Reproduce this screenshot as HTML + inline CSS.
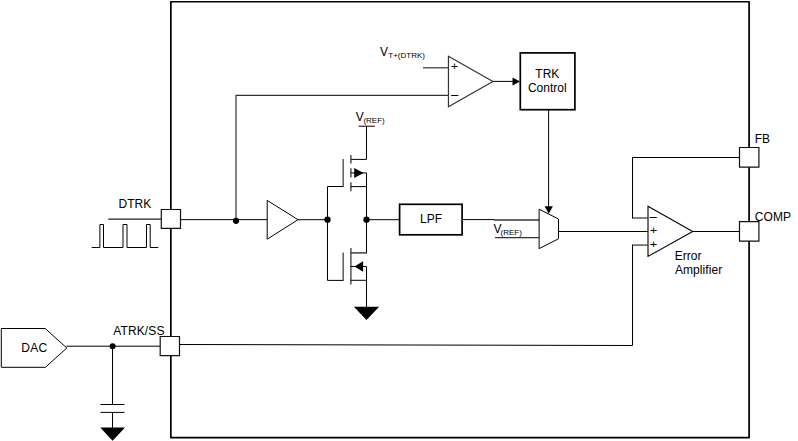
<!DOCTYPE html>
<html lang="en">
<head>
<meta charset="utf-8">
<title>Tracking block diagram</title>
<style>
  html, body { margin: 0; padding: 0; background: #fff; }
  body { width: 798px; height: 441px; overflow: hidden; }
  svg { display: block; }
  text { font-family: "Liberation Sans", Arial, Helvetica, sans-serif; fill: #000; }
  .t12 { font-size: 12px; }
  .t8 { font-size: 8px; }
  .w { fill: none; stroke: #000; stroke-width: 1; }
  .g { fill: none; stroke: #333; stroke-width: 1.2; }
  .b { fill: #fff; stroke: #000; stroke-width: 1.7; }
  .pin { fill: #fff; stroke: #111; stroke-width: 1.2; }
  .k { fill: #000; stroke: none; }
</style>
</head>
<body>
<svg width="798" height="441" viewBox="0 0 798 441">
  <rect x="0" y="0" width="798" height="441" fill="#fff"/>

  <!-- chip outline -->
  <rect x="170.85" y="1.75" width="578.25" height="435.95" fill="none" stroke="#000" stroke-width="1.7" stroke-linejoin="round"/>

  <!-- DTRK input -->
  <path class="g" d="M108.2 219 H161.3" style="stroke:#222;stroke-width:1.25"/>
  <path class="w" d="M91.7 247.5 H99.9 V224.5 H103.5 V247.5 H123 V224.5 H127 V247.5 H146.5 V224.5 H150.2 V247.5 H158.3" stroke-linejoin="miter"/>
  <path class="w" d="M180.5 219.65 H267.2"/>
  <path class="g" d="M236 220 V95.3 H448.5"/>
  <circle class="k" cx="236.05" cy="220.8" r="3.1"/>

  <!-- buffer -->
  <path class="w" d="M267.2 200.4 L298 219.7 L267.2 239.2 Z"/>
  <path class="w" d="M298 219.7 H327.5"/>
  <circle class="k" cx="327.5" cy="219.7" r="3.15"/>

  <!-- gate wiring -->
  <path class="w" d="M343 186.5 H327.5 V280.4 H343"/>
  <path class="g" d="M343.15 158.9 V187 M343.15 252.6 V280.9"/>

  <!-- upper FET -->
  <path class="w" d="M358.5 126.2 H374.8"/>
  <path class="w" d="M366.5 126.2 V159.4 H350.7"/>
  <path class="g" d="M350.9 154.9 V163.6 M350.9 168.3 V177.4 M350.9 182.2 V191.2" style="stroke:#3a3a3a;stroke-width:1.3"/>
  <path class="w" d="M350.7 172.9 H366.5 V253.4"/>
  <path class="g" d="M350.7 252.9 H367" style="stroke-width:1.4"/>
  <path class="w" d="M350.7 186.6 H366.5"/>
  <path class="k" d="M354.2 167.9 L363.6 172.95 L354.2 178 Z"/>
  <circle class="k" cx="366.5" cy="219.7" r="3.15"/>

  <!-- lower FET -->
  <path class="g" d="M350.9 248.1 V284.6" style="stroke:#3a3a3a;stroke-width:1.3"/>
  <path class="w" d="M350.7 266.5 H366.5 V307"/>
  <path class="w" d="M350.7 280.3 H366.5"/>
  <path class="k" d="M363.1 261.3 L354.4 266.45 L363.1 271.7 Z"/>
  <path class="k" d="M353.9 306.8 H379.1 L366.5 320 Z"/>

  <!-- LPF -->
  <path class="w" d="M366.5 219.7 H399.6"/>
  <rect class="b" x="399.6" y="204.3" width="62.5" height="30.5"/>
  <path class="w" d="M462.1 219.6 H494.5"/>
  <path class="g" d="M494 220 H539.1" style="stroke-width:1.4"/>

  <!-- comparator -->
  <path class="g" d="M423 67.8 H448.5"/>
  <path class="g" d="M448.45 56.3 L492.9 81.4 L448.45 106.7 Z"/>
  <path class="w" d="M492.9 81.4 H513"/>
  <path class="k" d="M512.5 77.4 L520.1 81.4 L512.5 85.4 Z"/>

  <!-- TRK control -->
  <rect class="b" x="520.3" y="52.9" width="54.6" height="56.8"/>
  <path class="w" d="M548.6 109.7 V207"/>
  <path class="k" d="M544.6 206.2 H552.9 L548.7 213.7 Z"/>

  <!-- mux -->
  <path class="w" d="M539.1 209.2 L558.5 219 V238.8 L539.1 248.6 Z"/>
  <path class="g" d="M495 237.6 H539.1"/>
  <path class="w" d="M558.4 231.5 H648.2"/>

  <!-- error amplifier -->
  <path class="w" d="M648 206.3 L692.7 231.4 L648 256.4 Z" style="stroke-width:1.1"/>
  <path class="w" d="M692.7 231.5 H739.5"/>
  <path class="g" d="M648.2 218 H632.5"/>
  <path class="w" d="M632.5 218.5 V157.5 H739.5"/>
  <path class="g" d="M648.2 245.1 H632.5"/>
  <path class="w" d="M632.5 244.6 V345.5 L179.5 344.5"/>

  <!-- pins -->
  <path class="pin" d="M161.3 209.5 H180.5 V228.3 H161.3 Z"/>
  <path class="pin" d="M160.2 336.5 H179.5 V355.7 H160.2 Z"/>
  <path class="pin" d="M739.5 147.5 H758.9 V167.1 H739.5 Z"/>
  <path class="pin" d="M739.5 221.7 H758.9 V241.1 H739.5 Z"/>

  <!-- DAC + cap -->
  <path class="w" d="M1.3 328.5 H45.2 L66.8 348 L45.4 367.3 H1.3 Z"/>
  <path class="w" d="M66.4 346.2 H160.2"/>
  <circle class="k" cx="112.6" cy="346.3" r="3"/>
  <path class="w" d="M112.5 346.3 V404.5 M100.5 404.5 H124.5 M100.5 412.4 H124.5 M112.5 412.4 V428"/>
  <path class="k" d="M100.2 427.5 H125 L112.6 440.7 Z"/>

  <!-- labels -->
  <text class="t12" x="118.6" y="208">DTRK</text>
  <text class="t12" x="113.2" y="334.7" letter-spacing="0.13">ATRK/SS</text>
  <text class="t12" x="21.3" y="352" letter-spacing="0.25">DAC</text>
  <text class="t12" x="754.7" y="143.2">FB</text>
  <text class="t12" x="754.8" y="220.9" letter-spacing="0.1">COMP</text>
  <text class="t12" x="674.7" y="259.8" letter-spacing="0.05">Error</text>
  <text class="t12" x="675" y="273.6" letter-spacing="0.06">Amplifier</text>
  <text class="t12" x="547.3" y="77.6" text-anchor="middle">TRK</text>
  <text class="t12" x="547.3" y="91.8" text-anchor="middle">Control</text>
  <text class="t12" x="431" y="223.2" text-anchor="middle">LPF</text>

  <text class="t12" x="355.7" y="121">V</text>
  <text class="t8" x="363.4" y="123.4">(REF)</text>
  <text class="t12" x="380" y="55.9">V</text>
  <text class="t8" x="388.3" y="57.8">T+(DTRK)</text>
  <text class="t12" x="493.4" y="233.2">V</text>
  <text class="t8" x="500.6" y="235.1">(REF)</text>

  <text class="sg" x="450.7" y="70" font-size="11" textLength="7.5" lengthAdjust="spacingAndGlyphs">+</text>
  <text class="sg" x="450.6" y="100" font-size="13.5" textLength="8.7" lengthAdjust="spacingAndGlyphs">−</text>
  <text class="sg" x="649.1" y="222" font-size="13.5" textLength="8.7" lengthAdjust="spacingAndGlyphs">−</text>
  <text class="sg" x="649.7" y="234" font-size="11" textLength="7.5" lengthAdjust="spacingAndGlyphs">+</text>
  <text class="sg" x="649.7" y="248" font-size="11" textLength="7.5" lengthAdjust="spacingAndGlyphs">+</text>
</svg>
</body>
</html>
